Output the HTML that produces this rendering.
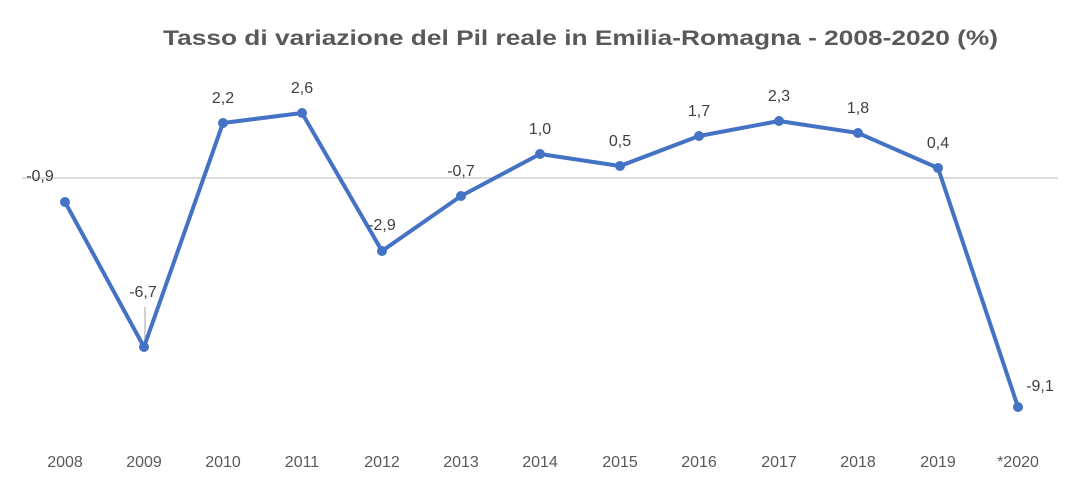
<!DOCTYPE html>
<html><head><meta charset="utf-8"><style>
body{margin:0;background:#fff;}
svg{display:block;font-family:"Liberation Sans",sans-serif;}
</style></head><body>
<svg width="1083" height="484" viewBox="0 0 1083 484">
<rect width="1083" height="484" fill="#fff"/>
<text x="163" y="45" textLength="835" lengthAdjust="spacingAndGlyphs" font-size="21" font-weight="bold" fill="#595959">Tasso di variazione del Pil reale in Emilia-Romagna  - 2008-2020  (%)</text>
<line x1="22" y1="178" x2="1058" y2="178" stroke="#d0d0d0" stroke-width="1.5"/>
<line x1="145" y1="307" x2="145" y2="340" stroke="#a6a6a6" stroke-width="1"/>
<polyline fill="none" stroke="#4472c4" stroke-width="4" stroke-linejoin="round" points="65,202 144,347 223,123 302,113 382,251 461,196 540,154 620,166 699,136 779,121 858,133 938,168 1018,407"/>
<g fill="#4472c4">
<circle cx="65" cy="202" r="5"/><circle cx="144" cy="347" r="5"/><circle cx="223" cy="123" r="5"/><circle cx="302" cy="113" r="5"/><circle cx="382" cy="251" r="5"/><circle cx="461" cy="196" r="5"/><circle cx="540" cy="154" r="5"/><circle cx="620" cy="166" r="5"/><circle cx="699" cy="136" r="5"/><circle cx="779" cy="121" r="5"/><circle cx="858" cy="133" r="5"/><circle cx="938" cy="168" r="5"/><circle cx="1018" cy="407" r="5"/>
</g>
<g font-size="16" fill="#404040" text-anchor="middle">
<text x="40" y="181">-0,9</text>
<text x="143" y="297">-6,7</text>
<text x="223" y="103">2,2</text>
<text x="302" y="93">2,6</text>
<text x="382" y="230">-2,9</text>
<text x="461" y="176">-0,7</text>
<text x="540" y="134">1,0</text>
<text x="620" y="146">0,5</text>
<text x="699" y="116">1,7</text>
<text x="779" y="101">2,3</text>
<text x="858" y="113">1,8</text>
<text x="938" y="148">0,4</text>
<text x="1040" y="391">-9,1</text>
</g>
<g font-size="16" fill="#595959" text-anchor="middle">
<text x="65" y="467">2008</text><text x="144" y="467">2009</text><text x="223" y="467">2010</text><text x="302" y="467">2011</text><text x="382" y="467">2012</text><text x="461" y="467">2013</text><text x="540" y="467">2014</text><text x="620" y="467">2015</text><text x="699" y="467">2016</text><text x="779" y="467">2017</text><text x="858" y="467">2018</text><text x="938" y="467">2019</text><text x="1018" y="467">*2020</text>
</g>
</svg>
</body></html>
